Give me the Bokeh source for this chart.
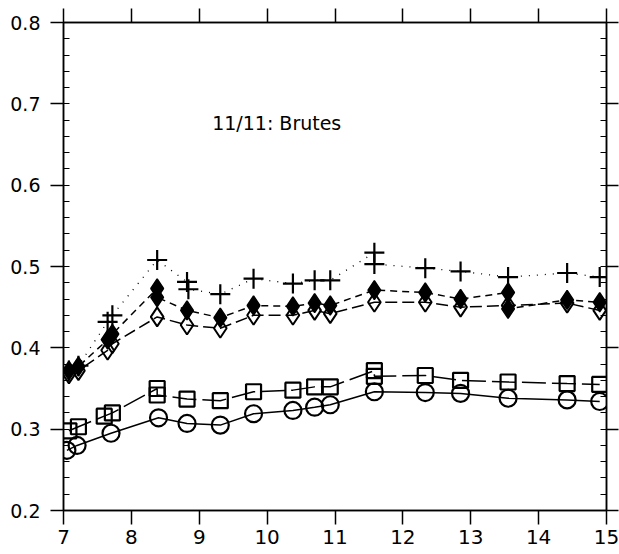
from bokeh.plotting import figure
from bokeh.models import Range1d, LinearAxis, FixedTicker, Label
from bokeh.embed import file_html
from bokeh.resources import INLINE

# ---- data ----
plus_x = [7.08, 7.22, 7.65, 7.72, 8.38, 8.82, 8.84, 9.31, 9.80, 10.38, 10.70, 10.93, 11.58, 11.58, 12.33, 12.85, 13.55, 14.42, 14.90]
plus_y = [0.372, 0.378, 0.432, 0.440, 0.508, 0.481, 0.472, 0.466, 0.485, 0.479, 0.483, 0.483, 0.517, 0.503, 0.498, 0.494, 0.487, 0.492, 0.487]

fdia_x = [7.08, 7.22, 7.65, 7.72, 8.38, 8.38, 8.82, 9.31, 9.80, 10.38, 10.70, 10.93, 11.58, 12.33, 12.85, 13.55, 13.55, 14.42, 14.90]
fdia_y = [0.372, 0.377, 0.410, 0.417, 0.473, 0.462, 0.446, 0.437, 0.452, 0.451, 0.455, 0.452, 0.471, 0.468, 0.460, 0.468, 0.448, 0.459, 0.456]

odia_x = [7.08, 7.22, 7.65, 7.72, 8.38, 8.82, 9.31, 9.80, 10.38, 10.70, 10.93, 11.58, 12.33, 12.85, 13.55, 14.42, 14.90]
odia_y = [0.368, 0.372, 0.397, 0.405, 0.438, 0.428, 0.424, 0.440, 0.440, 0.446, 0.442, 0.456, 0.456, 0.450, 0.452, 0.455, 0.446]

sq_x = [7.08, 7.22, 7.60, 7.72, 8.38, 8.38, 8.82, 9.31, 9.80, 10.38, 10.70, 10.93, 11.58, 11.58, 12.33, 12.85, 13.55, 14.42, 14.90]
sq_y = [0.298, 0.303, 0.316, 0.320, 0.350, 0.342, 0.337, 0.335, 0.346, 0.348, 0.352, 0.352, 0.372, 0.365, 0.366, 0.360, 0.358, 0.356, 0.355]

circ_x = [7.05, 7.20, 7.70, 8.40, 8.82, 9.31, 9.80, 10.38, 10.70, 10.93, 11.58, 12.33, 12.85, 13.55, 14.42, 14.90]
circ_y = [0.274, 0.280, 0.295, 0.314, 0.307, 0.305, 0.319, 0.323, 0.327, 0.330, 0.346, 0.345, 0.344, 0.338, 0.336, 0.334]

x_ticks = [7, 8, 9, 10, 11, 12, 13, 14, 15]
y_ticks = [0.2, 0.3, 0.4, 0.5, 0.6, 0.7, 0.8]
title_text = "11/11: Brutes"

FONT = "DejaVu Sans"

p = figure(width=619, height=554, x_range=Range1d(7, 15), y_range=Range1d(0.2, 0.8),
           output_backend="svg", toolbar_location=None,
           min_border_left=63, min_border_right=13, min_border_top=22, min_border_bottom=44)
p.background_fill_color = "white"
p.border_fill_color = "white"
p.outline_line_color = "black"
p.outline_line_width = 1.5
p.xgrid.visible = False
p.ygrid.visible = False

def style_axis(ax, ticks, minor, show_labels, tick_out, minor_in, font_size="19px"):
    ax.ticker = FixedTicker(ticks=ticks, minor_ticks=minor)
    ax.axis_line_color = "black"
    ax.axis_line_width = 1.5
    ax.major_tick_line_color = "black"
    ax.major_tick_line_width = 1.5
    ax.major_tick_out = tick_out
    ax.major_tick_in = 0
    ax.minor_tick_line_color = "black"
    ax.minor_tick_line_width = 1.2
    ax.minor_tick_in = minor_in
    ax.minor_tick_out = 0
    if show_labels:
        ax.major_label_text_font = FONT
        ax.major_label_text_font_size = font_size
        ax.major_label_text_color = "black"
    else:
        ax.major_label_overrides = {t: "" for t in ticks}
        ax.major_label_standoff = 0

y_minor = [round(0.2 + 0.02 * i, 3) for i in range(31)]

style_axis(p.xaxis[0], x_ticks, [], True, 14, 0, "20px")
p.xaxis[0].major_label_standoff = 5
style_axis(p.yaxis[0], y_ticks, y_minor, True, 13, 6, "19px")
p.yaxis[0].major_label_standoff = 10
p.yaxis[0].formatter.use_scientific = False

top = LinearAxis()
style_axis(top, x_ticks, [], False, 14, 0)
p.add_layout(top, "above")
right = LinearAxis()
style_axis(right, y_ticks, y_minor, False, 12, 6)
p.add_layout(right, "right")

# lines
p.line(plus_x, plus_y, line_color="black", line_width=1.3, line_dash="1 7")
p.line(fdia_x, fdia_y, line_color="black", line_width=1.5, line_dash="7 5")
p.line(odia_x, odia_y, line_color="black", line_width=1.5, line_dash="12 5")
p.line(sq_x, sq_y, line_color="black", line_width=1.5, line_dash="24 6")
p.line(circ_x, circ_y, line_color="black", line_width=1.5)

# markers
p.scatter(plus_x, plus_y, marker="cross", size=20, line_color="black", line_width=2.2)
p.scatter(odia_x, odia_y, marker="diamond", size=19, line_color="black", line_width=2, fill_color=None)
p.scatter(fdia_x, fdia_y, marker="diamond", size=19, line_color="black", line_width=1.5, fill_color="black")
p.scatter(sq_x, sq_y, marker="square", size=15, line_color="black", line_width=2.2, fill_color=None)
p.scatter(circ_x, circ_y, marker="circle", size=17, line_color="black", line_width=2.2, fill_color=None)

p.add_layout(Label(x=9.19, y=0.676, text=title_text, text_font=FONT, text_font_size="19px",
                   text_color="black", text_baseline="middle", text_align="left"))

open("out.html", "w").write(file_html(p, INLINE))
